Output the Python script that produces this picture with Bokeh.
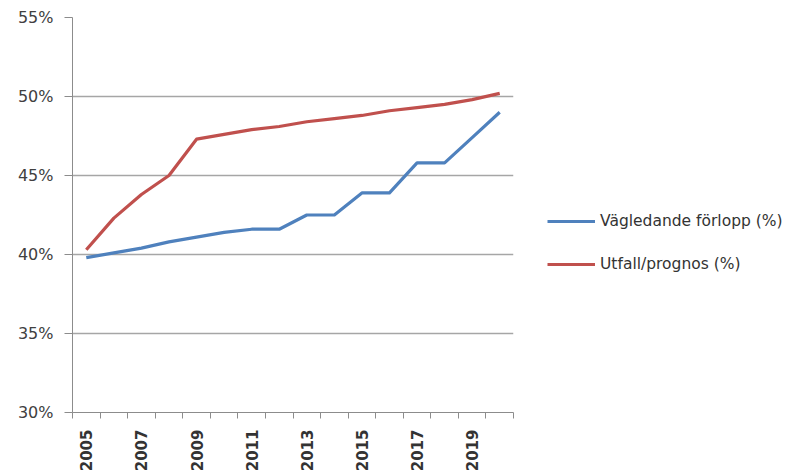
from bokeh.plotting import figure
from bokeh.layouts import row
from bokeh.models import Range1d, FixedTicker, PrintfTickFormatter, Legend, LegendItem
from bokeh.embed import file_html
from bokeh.resources import INLINE
import math

years = [2005, 2006, 2007, 2008, 2009, 2010, 2011, 2012,
         2013, 2014, 2015, 2016, 2017, 2018, 2019, 2020]
vagledande = [39.8, 40.1, 40.4, 40.8, 41.1, 41.4, 41.6, 41.6,
              42.5, 42.5, 43.9, 43.9, 45.8, 45.8, 47.4, 49.0]
utfall = [40.3, 42.3, 43.8, 45.0, 47.3, 47.6, 47.9, 48.1,
          48.4, 48.6, 48.8, 49.1, 49.3, 49.5, 49.8, 50.2]
label_vagledande = "Vägledande förlopp (%)"
label_utfall = "Utfall/prognos (%)"
y_ticks = [30, 35, 40, 45, 50, 55]

FONT = "DejaVu Sans"
BLUE = "#4f81bd"
RED = "#c0504d"

p = figure(width=514, height=474, output_backend="svg", toolbar_location=None,
           x_range=Range1d(years[0] - 0.5, years[-1] + 0.5),
           y_range=Range1d(30, 55),
           min_border_left=72, min_border_right=1,
           min_border_top=17, min_border_bottom=61)
p.outline_line_color = None
p.background_fill_color = "white"
p.border_fill_color = "white"

p.line(years, vagledande, line_color=BLUE, line_width=3.2, line_join="round")
p.line(years, utfall, line_color=RED, line_width=3.2, line_join="round")

# y axis: percent ticks with outward marks
p.yaxis.ticker = FixedTicker(ticks=y_ticks)
p.yaxis.formatter = PrintfTickFormatter(format="%d%%")
p.yaxis.axis_line_color = "#8c8c8c"
p.yaxis.major_tick_line_color = "#8c8c8c"
p.yaxis.major_tick_out = 8
p.yaxis.major_tick_in = 0
p.yaxis.minor_tick_line_color = None
p.yaxis.major_label_standoff = 11
p.yaxis.major_label_text_font = FONT
p.yaxis.major_label_text_font_size = "16px"
p.yaxis.major_label_text_color = "#404040"

# x axis: labels on every other year, boundary ticks between years
p.xaxis.ticker = FixedTicker(ticks=years[::2],
                             minor_ticks=[y - 0.5 for y in years] + [years[-1] + 0.5])
p.xaxis.axis_line_color = "#8c8c8c"
p.xaxis.major_tick_line_color = None
p.xaxis.major_tick_out = 0
p.xaxis.major_tick_in = 0
p.xaxis.minor_tick_line_color = "#8c8c8c"
p.xaxis.minor_tick_out = 6
p.xaxis.minor_tick_in = 0
p.xaxis.major_label_orientation = math.pi / 2
p.xaxis.major_label_standoff = 11
p.xaxis.major_label_text_font = FONT
p.xaxis.major_label_text_font_size = "15px"
p.xaxis.major_label_text_font_style = "bold"
p.xaxis.major_label_text_color = "#333333"

p.xgrid.grid_line_color = None
p.ygrid.grid_line_color = "#a6a6a6"
p.ygrid.grid_line_width = 1.3

# legend panel to the right of the chart; its series sit outside the
# visible range so only the legend swatches show
lf = figure(width=287, height=474, output_backend="svg", toolbar_location=None,
            x_range=Range1d(0, 1), y_range=Range1d(0, 1),
            min_border=0)
lf.axis.visible = False
lf.grid.visible = False
lf.outline_line_color = None
lf.border_fill_color = "white"
k1 = lf.line(years, vagledande, line_color=BLUE, line_width=3.2)
k2 = lf.line(years, utfall, line_color=RED, line_width=3.2)

legend = Legend(items=[LegendItem(label=label_vagledande, renderers=[k1]),
                       LegendItem(label=label_utfall, renderers=[k2])],
                location=(33, 138), orientation="vertical",
                glyph_width=48, glyph_height=20, label_height=20,
                spacing=23, padding=0, margin=0, label_standoff=5,
                border_line_color=None, background_fill_alpha=0,
                label_text_font=FONT, label_text_font_size="15.5px",
                label_text_color="#333333")
lf.add_layout(legend, "center")

layout = row(p, lf, spacing=0)
open("out.html", "w").write(file_html(layout, INLINE))
